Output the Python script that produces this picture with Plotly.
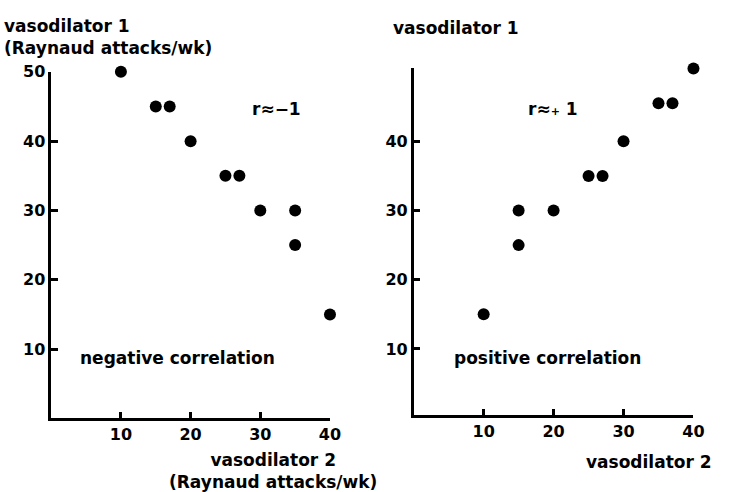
import plotly.graph_objects as go

# Paired weekly Raynaud attack counts under two vasodilators
neg_x = [10, 15, 17, 20, 25, 27, 30, 35, 35, 40]
neg_y = [50, 45, 45, 40, 35, 35, 30, 30, 25, 15]
pos_x = [10, 15, 15, 20, 25, 27, 30, 35, 37, 40]
pos_y = [15, 30, 25, 30, 35, 35, 40, 45.5, 45.5, 50.5]

x_ticks = [10, 20, 30, 40]
y_ticks_left = [10, 20, 30, 40, 50]
y_ticks_right = [10, 20, 30, 40]
y_cap_right = [50.6]

W, H = 735, 492
FONT = "DejaVu Sans"
BLACK = "#000000"


def px(x):
    return x / W


def py(y):
    return 1 - y / H


fig = go.Figure()
marker = dict(size=12, color=BLACK, line=dict(width=0))
fig.add_trace(go.Scatter(x=neg_x, y=neg_y, mode="markers", marker=marker,
                         cliponaxis=False, xaxis="x", yaxis="y",
                         showlegend=False))
fig.add_trace(go.Scatter(x=pos_x, y=pos_y, mode="markers", marker=marker,
                         cliponaxis=False, xaxis="x2", yaxis="y2",
                         showlegend=False))

axis_common = dict(
    showline=True, linecolor=BLACK, linewidth=2.5,
    ticks="inside", ticklen=7, tickwidth=2.5, tickcolor=BLACK,
    showgrid=False, zeroline=False, mirror=False,
    tickfont=dict(family=FONT, size=16, color=BLACK, weight="bold"),
)

fig.update_layout(
    width=W, height=H,
    margin=dict(l=0, r=0, t=0, b=0),
    paper_bgcolor="white", plot_bgcolor="white",
    xaxis=dict(domain=[px(52), px(335)], range=[0, 40], tickvals=x_ticks,
               anchor="y", **axis_common),
    yaxis=dict(domain=[py(417), py(64)], range=[0, 50], tickvals=y_ticks_left,
               anchor="x", **axis_common),
    xaxis2=dict(domain=[px(420), px(704)], range=[0, 40], tickvals=x_ticks,
                anchor="y2", **axis_common),
    yaxis2=dict(domain=[py(414), py(60)], range=[0.4, 50.6],
                tickvals=y_ticks_right,
                minor=dict(tickvals=y_cap_right, ticks="inside", ticklen=7,
                           tickwidth=2.5, tickcolor=BLACK, showgrid=False),
                anchor="x2", **axis_common),
)

bold = dict(family=FONT, size=17, color=BLACK, weight="bold")


def label(text, x, y, xanchor="left", align="left"):
    fig.add_annotation(text=text, x=px(x), y=py(y), xref="paper", yref="paper",
                       xanchor=xanchor, yanchor="middle", align=align,
                       showarrow=False, borderpad=0, font=bold)


label("vasodilator 1<br>(Raynaud attacks/wk)", 3, 29)
label("r≈−1", 255, 102)
label("negative correlation", 80, 355)
label("vasodilator 2<br>(Raynaud attacks/wk)", 277, 471, xanchor="center",
      align="center")

label("vasodilator 1", 398, 19)
label("r≈<span style='font-size:11px'>+</span> 1", 535, 102)
label("positive correlation", 460, 355)
label("vasodilator 2", 724, 461, xanchor="right")

fig.write_html("out.html")
